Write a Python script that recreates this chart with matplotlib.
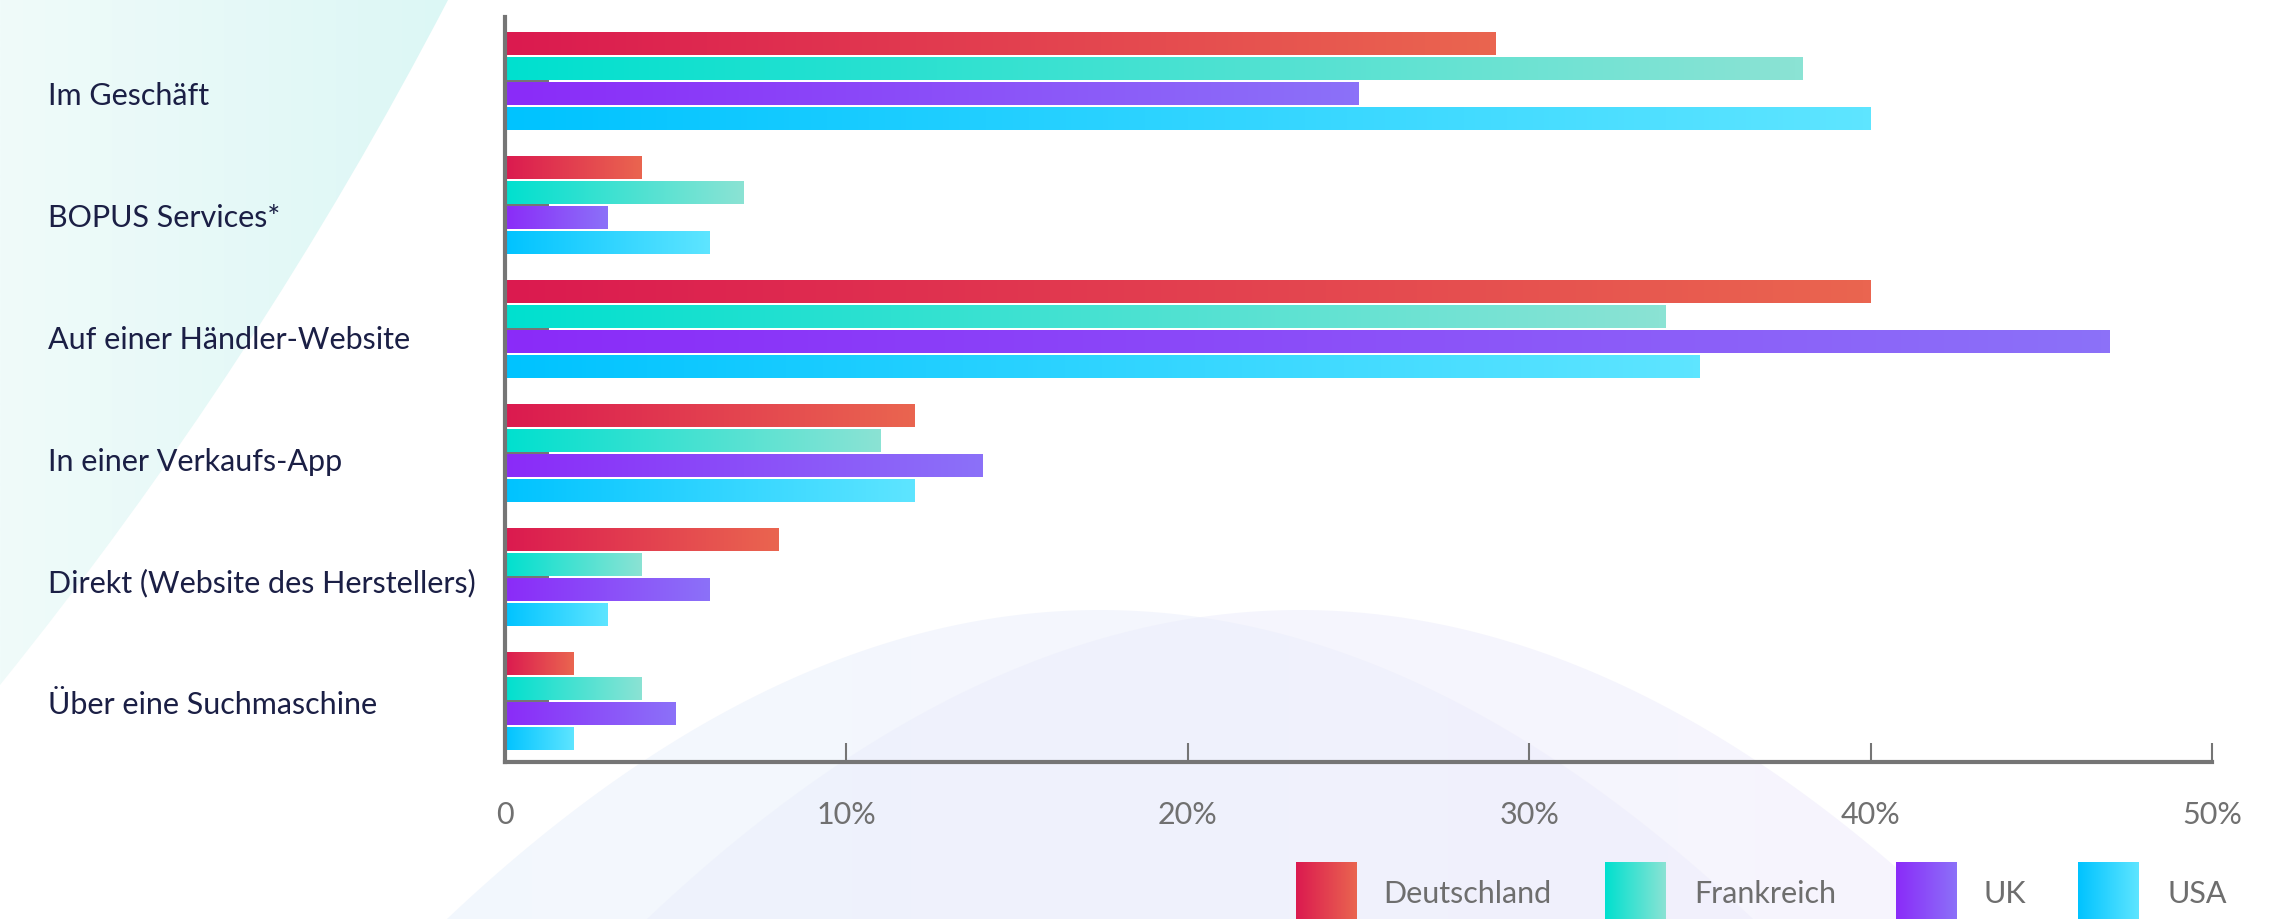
import numpy as np
import matplotlib.pyplot as plt
from matplotlib.colors import LinearSegmentedColormap
from matplotlib.path import Path
from matplotlib.patches import PathPatch, Rectangle

plt.rcParams["font.family"] = ["Lato", "DejaVu Sans"]

# ---------------------------------------------------------------
# data
# ---------------------------------------------------------------
channels = ["Im Geschäft", "BOPUS Services*", "Auf einer Händler-Website",
            "In einer Verkaufs-App", "Direkt (Website des Herstellers)",
            "Über eine Suchmaschine"]
countries = ["Deutschland", "Frankreich", "UK", "USA"]
deutschland = [29, 4, 40, 12, 8, 2]
frankreich = [38, 7, 34, 11, 4, 4]
uk = [25, 3, 47, 14, 6, 5]
usa = [40, 6, 35, 12, 3, 2]
x_ticks = [0, 10, 20, 30, 40, 50]
x_tick_labels = ["0", "10%", "20%", "30%", "40%", "50%"]

series = [deutschland, frankreich, uk, usa]

# start / end colour of the horizontal gradient of every bar
GRADIENTS = {
    "Deutschland": ("#DB1A4F", "#EA6550"),
    "Frankreich": ("#00E0CF", "#8BE3D4"),
    "UK": ("#8A2BF9", "#8C71F8"),
    "USA": ("#00C3FF", "#5EE5FF"),
}
AXIS_GREY = "#757575"
LABEL_NAVY = "#1B1F45"
TEXT_GREY = "#6E6E6E"

W, H = 2295, 919


def gradient(ax, extent, c0, c1, clip, alpha=1.0, zorder=1):
    cmap = LinearSegmentedColormap.from_list("g", [c0, c1])
    grad = np.linspace(0, 1, 256).reshape(1, -1)
    im = ax.imshow(grad, cmap=cmap, extent=extent, aspect="auto",
                   alpha=alpha, zorder=zorder, interpolation="bilinear")
    im.set_clip_path(clip)
    return im


fig = plt.figure(figsize=(W / 100, H / 100), dpi=100)

# ---------------------------------------------------------------
# decorative background (pixel coordinates)
# ---------------------------------------------------------------
bg = fig.add_axes([0, 0, 1, 1], zorder=0)
bg.set_xlim(0, W)
bg.set_ylim(H, 0)
bg.axis("off")

# teal corner top left
corner = Path([(0, 0), (448, 0), (258, 365), (0, 685), (0, 0)],
              [Path.MOVETO, Path.LINETO, Path.CURVE3, Path.CURVE3, Path.CLOSEPOLY])
corner_patch = PathPatch(corner, facecolor="none", edgecolor="none")
bg.add_patch(corner_patch)
gradient(bg, (0, 448, 685, 0), "#F0FBFA", "#DCF7F5", corner_patch)

# two soft arches at the bottom
for peak, c0, c1 in [(1100, "#E6F0FC", "#EEEDFB"), (1300, "#EAEFFC", "#EEEAFB")]:
    xs = np.linspace(peak - 760, peak + 760, 200)
    ys = 610 + 308 * ((xs - peak) / 652) ** 2
    verts = np.column_stack([xs, ys])
    arch = PathPatch(Path(np.vstack([verts, verts[:1]]), closed=True),
                     facecolor="none", edgecolor="none")
    bg.add_patch(arch)
    gradient(bg, (peak - 760, peak + 760, 1100, 600), c0, c1, arch, alpha=0.5)
bg.set_xlim(0, W)
bg.set_ylim(H, 0)

# ---------------------------------------------------------------
# main chart
# ---------------------------------------------------------------
ax = fig.add_axes([505 / W, 1 - 762 / H, (2212 - 505) / W, (762 - 17) / H], zorder=1)
ax.patch.set_visible(False)

y = np.arange(len(channels))
offsets = [-0.3, -0.1, 0.1, 0.3]
bar_h = 0.185

for name, values, off in zip(countries, series, offsets):
    c0, c1 = GRADIENTS[name]
    bars = ax.barh(y + off, values, height=bar_h, color=c0, linewidth=0, zorder=1)
    for bar in bars:
        bb = bar.get_bbox()
        gradient(ax, (bb.x0, bb.x1, bb.y1, bb.y0), c0, c1, bar, zorder=1.1)

ax.set_xlim(0, 50)
ax.set_ylim(5.492, -0.516)

for side in ["top", "right"]:
    ax.spines[side].set_visible(False)
for side in ["left", "bottom"]:
    ax.spines[side].set_color(AXIS_GREY)
    ax.spines[side].set_linewidth(3)

ax.set_axisbelow(True)
ax.set_xticks(x_ticks)
ax.set_xticklabels(x_tick_labels)
ax.tick_params(axis="x", direction="in", length=13.5, width=1.5, color=AXIS_GREY,
               pad=28, labelsize=22, labelcolor="#707070")
ax.set_yticks(y)
ax.tick_params(axis="y", direction="in", length=32, width=1.5, color=AXIS_GREY,
               labelleft=False)

# category labels, left aligned
for i, label in enumerate(channels):
    fig.text(48 / W, 1 - (105 + 121.9 * i) / H, label, ha="left", va="baseline",
             fontsize=22, color=LABEL_NAVY)

# ---------------------------------------------------------------
# legend (bottom right, swatches run off the bottom edge)
# ---------------------------------------------------------------
lg = fig.add_axes([0, 0, 1, 1], zorder=2)
lg.set_xlim(0, W)
lg.set_ylim(H, 0)
lg.axis("off")
swatch_x = [1296, 1605, 1896, 2078]
text_x = [1383, 1694, 1983, 2167]
for name, sx, tx in zip(countries, swatch_x, text_x):
    c0, c1 = GRADIENTS[name]
    sw = Rectangle((sx, 862), 61, 80, facecolor=c0, linewidth=0)
    lg.add_patch(sw)
    gradient(lg, (sx, sx + 61, 942, 862), c0, c1, sw, zorder=3)
    lg.text(tx, 903, name, ha="left", va="baseline", fontsize=22, color=TEXT_GREY)
lg.set_xlim(0, W)
lg.set_ylim(H, 0)

fig.savefig("out.png", dpi=100)
